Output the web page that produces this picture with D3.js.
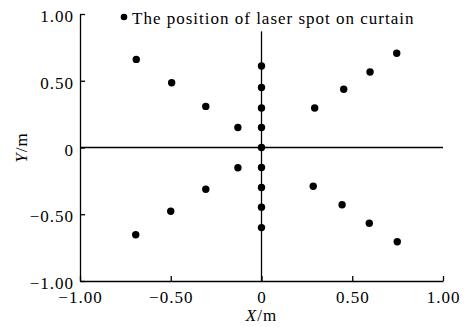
<!DOCTYPE html>
<html>
<head>
<meta charset="utf-8">
<script src="https://cdn.jsdelivr.net/npm/d3@7"></script>
<style>
body { margin: 0; background: white; }
svg { display: block; }
text { font-family: "Liberation Serif", "Times New Roman", serif; font-size: 17px; letter-spacing: 1px; fill: black; }
.axis path, .axis line, .zero { stroke: black; stroke-width: 1.3; }
</style>
</head>
<body>
<div id="container"></div>
<script>
// spot positions (m)
var spotX = [-0.69, -0.495, -0.307, -0.13, 0, 0, 0, 0, 0, 0.293, 0.453, 0.598, 0.745,
             -0.13, 0, 0, 0, 0, -0.307, -0.50, -0.693, 0.285, 0.444, 0.594, 0.748];
var spotY = [0.66, 0.485, 0.308, 0.15, 0.61, 0.45, 0.296, 0.15, 0, 0.296, 0.436, 0.565, 0.706,
             -0.152, -0.15, -0.30, -0.447, -0.60, -0.313, -0.477, -0.653, -0.29, -0.429, -0.567, -0.706];
var tickVals = [-1, -0.5, 0, 0.5, 1];
var legendText = "The position of laser spot on curtain";

var width = 468, height = 327;
var margin = {top: 14, right: 25, bottom: 46, left: 80};

var svg = d3.select("#container").append("svg")
    .attr("width", width)
    .attr("height", height);

var x = d3.scaleLinear().domain([-1, 1]).range([margin.left, width - margin.right]);
var y = d3.scaleLinear().domain([-1, 1]).range([height - margin.bottom, margin.top]);

function fmt(d) { return d === 0 ? "0" : d3.format(".2f")(d); }

// zero lines
svg.append("line").attr("class", "zero")
    .attr("x1", x(-1)).attr("x2", x(1))
    .attr("y1", y(0)).attr("y2", y(0));
svg.append("line").attr("class", "zero")
    .attr("x1", x(0)).attr("x2", x(0))
    .attr("y1", y(0.87)).attr("y2", y(-1));

svg.append("g")
    .attr("class", "axis")
    .attr("transform", "translate(0," + y(-1) + ")")
    .call(d3.axisBottom(x).tickValues(tickVals).tickFormat(fmt)
        .tickSizeInner(-5).tickSizeOuter(0).tickPadding(10))
    .call(function(g) { g.selectAll("text").attr("font-size", null).attr("font-family", null); });

svg.append("g")
    .attr("class", "axis")
    .attr("transform", "translate(" + x(-1) + ",0)")
    .call(d3.axisLeft(y).tickValues(tickVals).tickFormat(fmt)
        .tickSizeInner(-5).tickSizeOuter(0).tickPadding(6))
    .call(function(g) { g.selectAll("text").attr("dy", "0.45em"); });

d3.selectAll(".axis").attr("font-size", null).attr("font-family", null);

// points
svg.append("g")
    .selectAll("circle")
    .data(d3.range(spotX.length))
    .enter()
    .append("circle")
    .attr("cx", function(i) { return x(spotX[i]); })
    .attr("cy", function(i) { return y(spotY[i]); })
    .attr("r", 3.7)
    .attr("fill", "black");

// legend
svg.append("circle").attr("cx", 124).attr("cy", 17).attr("r", 3.3).attr("fill", "black");
svg.append("text").attr("x", 132).attr("y", 24).text(legendText);

// axis titles
var xt = svg.append("text")
    .attr("x", x(0))
    .attr("y", 321)
    .attr("text-anchor", "middle");
xt.append("tspan").attr("font-style", "italic").text("X");
xt.append("tspan").text("/m");

var yt = svg.append("text")
    .attr("transform", "translate(27," + y(0) + ") rotate(-90)")
    .attr("text-anchor", "middle");
yt.append("tspan").attr("font-style", "italic").text("Y");
yt.append("tspan").text("/m");
</script>
</body>
</html>
